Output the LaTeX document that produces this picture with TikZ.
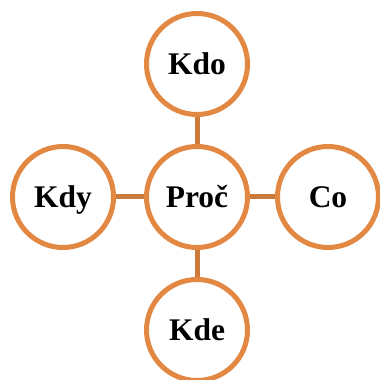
\documentclass[tikz,border=0pt]{standalone}
\usepackage{fontspec}
\setmainfont{Liberation Serif}
\definecolor{ring}{RGB}{226,136,66}
\definecolor{link}{RGB}{204,122,58}
\tikzset{
  bub/.style={circle,draw=ring,line width=5pt,fill=white,minimum size=101pt,inner sep=0pt,
    text height=21pt,text depth=0pt,font=\fontsize{31.5}{31.5}\selectfont\bfseries},
  tie/.style={draw=link,line width=5pt}
}
\begin{document}
\begin{tikzpicture}[x=1pt,y=1pt]
            \useasboundingbox (0,0) rectangle (380,380);
            \node[bub] (P) at(197,183){Proč};
            \node[bub] (P1) at(197,316) {Kdo};
            \node[bub] (P2) at(197,50) {Kde};
            \node[bub] (P3) at(63,183) {Kdy};
            \node[bub] (P4) at(328,183) {Co};
            \draw[tie] (P) -- (P1);
            \draw[tie] (P) -- (P2);
            \draw[tie] (P) -- (P3);
            \draw[tie] (P) -- (P4);
        \end{tikzpicture}
\end{document}
